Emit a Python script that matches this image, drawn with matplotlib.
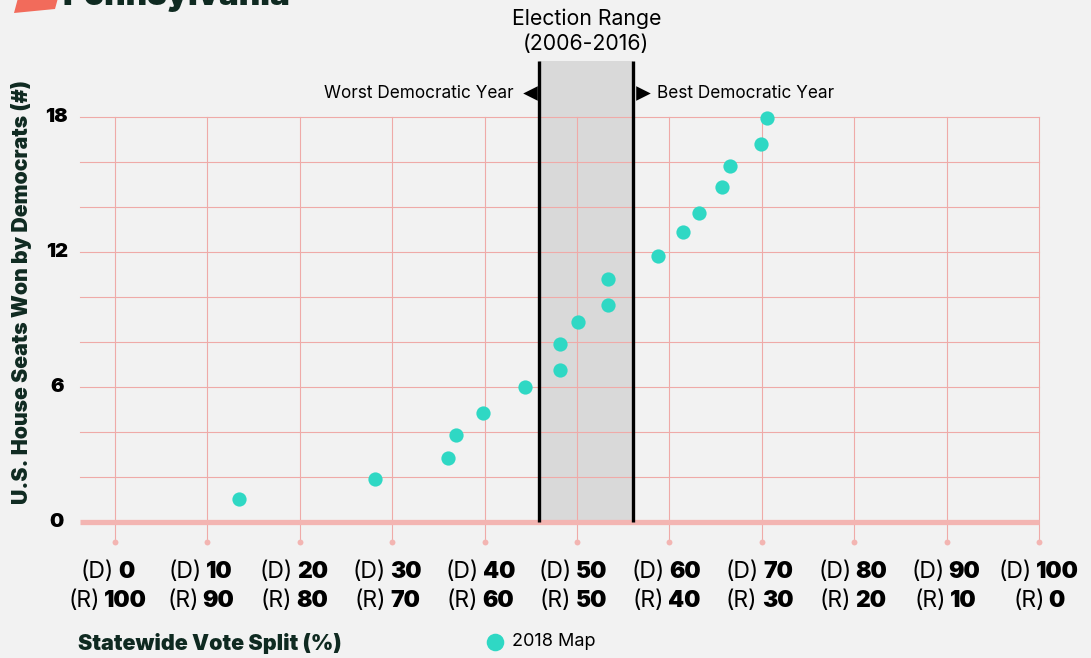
import matplotlib
matplotlib.use("Agg")
import matplotlib.pyplot as plt
from matplotlib.offsetbox import TextArea, HPacker, VPacker, AnnotationBbox
from matplotlib.patches import Polygon, Rectangle

# ---------------- data ----------------
vote_share_d = [13.4, 28.1, 36.0, 36.9, 39.8, 44.4, 48.1, 48.2, 50.1, 53.4, 53.4,
                58.8, 61.5, 63.2, 65.7, 66.6, 69.9, 70.6]
seats_won = [1.02, 1.9, 2.84, 3.87, 4.84, 6.0, 6.76, 7.9, 8.9, 9.64, 10.8,
             11.8, 12.87, 13.75, 14.9, 15.84, 16.8, 17.94]
x_ticks = [0, 10, 20, 30, 40, 50, 60, 70, 80, 90, 100]
y_ticks = [0, 6, 12, 18]
y_grid = [2, 4, 6, 8, 10, 12, 14, 16, 18]
election_range = [45.9, 56.1]

BG = "#f2f2f2"
GRID = "#efaaa8"
ZERO = "#f3b5b2"
TEAL = "#2fd8c4"
DARK = "#0f2a21"
FONT = "Inter"

plt.rcParams['font.family'] = [FONT, 'DejaVu Sans']

W, H = 1091, 658
fig = plt.figure(figsize=(W / 100, H / 100), dpi=100, facecolor=BG)

# axes: x px 80..1039, y px 117..542
ax = fig.add_axes([80 / W, (H - 542) / H, 959 / W, 425 / H])
ax.set_facecolor(BG)
ax.set_xlim(-3.8, 100)
ax.set_ylim(-0.89, 18)
for s in ax.spines.values():
    s.set_visible(False)
ax.set_xticks([])
ax.set_yticks([])

# election range box
x0, x1 = election_range
ax.add_patch(Rectangle((x0, 0), x1 - x0, 20.5, facecolor="#d9d9d9",
                       edgecolor="none", zorder=1, clip_on=False))

# grid
for g in y_grid:
    ax.plot([-3.8, 100], [g, g], color=GRID, lw=0.8, zorder=2, clip_on=False)
for v in x_ticks:
    ax.plot([v, v], [-0.89, 18], color=GRID, lw=0.8, zorder=2, clip_on=False)
    ax.scatter([v], [-0.89], s=18, color=ZERO, zorder=3, clip_on=False, linewidths=0)
ax.plot([-3.8, 100], [0, 0], color=ZERO, lw=3.8, zorder=2.5, clip_on=False,
        solid_capstyle='butt')

# election range edges
for xe in election_range:
    ax.plot([xe, xe], [0, 20.5], color="black", lw=2.4, zorder=4, clip_on=False,
            solid_capstyle='butt')

# points
ax.scatter(vote_share_d, seats_won, s=105, color=TEAL, zorder=5, clip_on=False,
           linewidths=0)

# y tick labels
for t in y_ticks:
    ax.text(-6.3, t, str(t), ha='center', va='center', fontsize=14.5,
            fontweight=900, color='black', clip_on=False)

# x tick labels
TS = 16.5
for v in x_ticks:
    r = 100 - v
    row1 = HPacker(children=[TextArea("(D)", textprops=dict(fontsize=TS, color='black', family=FONT)),
                             TextArea(str(v), textprops=dict(fontsize=TS, fontweight=900, color='black', family=FONT))],
                   align='baseline', pad=0, sep=3)
    row2 = HPacker(children=[TextArea("(R)", textprops=dict(fontsize=TS, color='black', family=FONT)),
                             TextArea(str(r), textprops=dict(fontsize=TS, fontweight=900, color='black', family=FONT))],
                   align='baseline', pad=0, sep=3)
    box = VPacker(children=[row1, row2], align='center', pad=0, sep=5)
    dx = -7.5 + 0.075 * v
    ab = AnnotationBbox(box, (v, -0.89), xybox=(dx * 0.72, -14), xycoords='data',
                        boxcoords='offset points', box_alignment=(0.5, 1),
                        frameon=False, pad=0, annotation_clip=False)
    ax.add_artist(ab)

# annotations at top
xc = (x0 + x1) / 2
ax.text(xc, (522 - 19) / 22.5, "Election Range", ha='center', va='center',
        fontsize=15.3, color='black', clip_on=False)
ax.text(xc, (522 - 44) / 22.5, "(2006-2016)", ha='center', va='center',
        fontsize=15.3, color='black', clip_on=False)
ya = (522 - 93) / 22.5
ax.text(x0 - 2.8, ya, "Worst Democratic Year", ha='right', va='center',
        fontsize=12.4, color='black', clip_on=False)
ax.text(x1 + 2.6, ya, "Best Democratic Year", ha='left', va='center',
        fontsize=12.4, color='black', clip_on=False)
ax.scatter([x0 - 1.0], [ya], marker='<', s=110, color='black', zorder=5, clip_on=False,
           linewidths=0)
ax.scatter([x1 + 1.0], [ya], marker='>', s=110, color='black', zorder=5, clip_on=False,
           linewidths=0)

# y axis label
fig.text(22 / W, 1 - 292 / H, "U.S. House Seats Won by Democrats (#)", rotation=90,
         ha='center', va='center', fontsize=15.3, fontweight=900, color=DARK)

# x axis label
fig.text(78 / W, 1 - 643 / H, "Statewide Vote Split (%)", ha='left', va='center',
         fontsize=15.5, fontweight=900, color=DARK)

# overlay axes in pixel coordinates for legend and logo
ov = fig.add_axes([0, 0, 1, 1], facecolor='none')
ov.set_xlim(0, W)
ov.set_ylim(H, 0)
ov.axis('off')
ov.scatter([495], [642], s=160, color=TEAL, linewidths=0)
ov.text(512, 642, "2018 Map", ha='left', va='center', fontsize=13, color='black')

# cut-off logo at top
ov.add_patch(Polygon([[18, -2], [58, -2], [55, 9], [14, 13]], closed=True,
                     facecolor="#f26b5b", edgecolor='none'))
ov.text(62, 5, "Pennsylvania", ha='left', va='baseline', fontsize=24,
        fontweight=900, color=DARK)

fig.savefig("out.png", dpi=100, facecolor=BG)
